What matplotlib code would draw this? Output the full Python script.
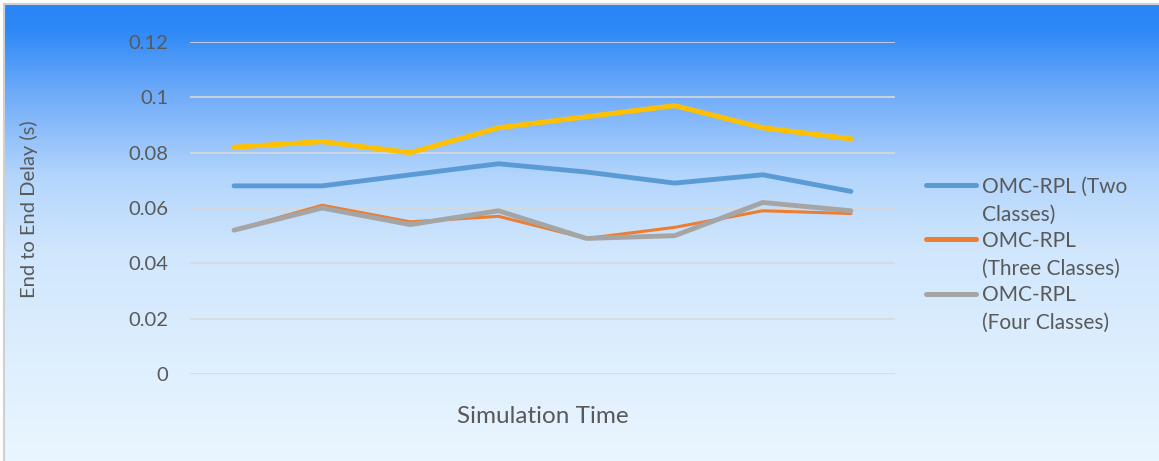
"""
End to end delay vs simulation time, OMC-RPL class variants
"""

import numpy as np
import matplotlib.pyplot as plt
from matplotlib.colors import LinearSegmentedColormap

plt.rcParams['font.family'] = ['Lato', 'DejaVu Sans']

# data (8 time steps, no tick labels shown)
time_steps = list(range(8))
delay_extra = [0.082, 0.084, 0.080, 0.089, 0.093, 0.097, 0.089, 0.085]
delay_two = [0.068, 0.068, 0.072, 0.076, 0.073, 0.069, 0.072, 0.066]
delay_three = [0.052, 0.061, 0.055, 0.057, 0.049, 0.053, 0.059, 0.058]
delay_four = [0.052, 0.060, 0.054, 0.059, 0.049, 0.050, 0.062, 0.059]
y_ticks = [0, 0.02, 0.04, 0.06, 0.08, 0.1, 0.12]
y_tick_labels = ['0', '0.02', '0.04', '0.06', '0.08', '0.1', '0.12']
legend_labels = ['OMC-RPL (Two\nClasses)', 'OMC-RPL\n(Three Classes)', 'OMC-RPL\n(Four Classes)']

TEXT = '#595959'
W, H = 1159, 461
fig = plt.figure(figsize=(W / 100, H / 100), dpi=100)
fig.patch.set_facecolor('white')


def px(x, y):
    # pixel position (from top-left) -> figure fraction
    return x / W, 1 - y / H


# gradient background
bg = fig.add_axes([5 / W, 0, 1 - 5 / W, 1 - 5 / H], zorder=0)
grad_cmap = LinearSegmentedColormap.from_list('bg', [
    (0.00, '#2a86f6'),
    (0.05, '#2c88f6'),
    (0.20, '#72adf9'),
    (0.38, '#b4d6fc'),
    (0.55, '#d1e7fd'),
    (1.00, '#eaf6ff'),
])
grad = np.linspace(0, 1, 300).reshape(-1, 1)
bg.imshow(grad, aspect='auto', cmap=grad_cmap, extent=[0, 1, 1, 0])
bg.set_xlim(0, 1)
bg.set_ylim(1, 0)
bg.axis('off')
# thin grey frame on top/left edges
fig.add_artist(plt.Line2D([4 / W, 1], [1 - 4 / H, 1 - 4 / H], color='#d0d0d0', lw=1.5))
fig.add_artist(plt.Line2D([4 / W, 4 / W], [0, 1 - 4 / H], color='#d0d0d0', lw=1.5))

ax = fig.add_axes([190 / W, (H - 374) / H, 705 / W, 332 / H], zorder=1)
ax.patch.set_alpha(0)

ax.plot(time_steps, delay_extra, color='#ffc000', lw=3.6, solid_capstyle='round', zorder=3)
l_two, = ax.plot(time_steps, delay_two, color='#5b9bd5', lw=3.5,
                 solid_capstyle='round', zorder=3)
l_three, = ax.plot(time_steps, delay_three, color='#ed7d31', lw=2.2,
                   solid_capstyle='round', zorder=3)
l_four, = ax.plot(time_steps, delay_four, color='#a5a5a5', lw=3.5,
                  solid_capstyle='round', zorder=4)

ax.set_xlim(-0.5, 7.5)
ax.set_ylim(0, 0.12)
ax.set_yticks(y_ticks)
ax.set_yticklabels(y_tick_labels)
ax.set_xticks([])
ax.tick_params(axis='y', length=0, pad=15.5, labelsize=14.5, labelcolor=TEXT)
ax.grid(axis='y', color='#d9d9d9', lw=1.2, zorder=1)
for s in ax.spines.values():
    s.set_visible(False)

# axis titles
fig.text(*px(29, 209), 'End to End Delay (s)', rotation=90, ha='center', va='center',
         fontsize=14.5, color=TEXT)
fig.text(*px(543, 423), 'Simulation Time', ha='center', va='baseline',
         fontsize=17.5, color=TEXT)

# legend, handle aligned with first text line like Excel does
for i, (line, label) in enumerate(zip([l_two, l_three, l_four], legend_labels)):
    y0 = 185 + i * 54.3
    hx0, hy = px(925.5, y0)
    hx1, _ = px(975.5, y0)
    fig.add_artist(plt.Line2D([hx0, hx1], [hy, hy], color=line.get_color(), lw=3.6,
                              solid_capstyle='round'))
    for j, part in enumerate(label.split('\n')):
        fig.text(*px(982, y0 + 7.5 + j * 28), part, ha='left', va='baseline',
                 fontsize=15, color=TEXT)

plt.savefig('out.png', dpi=100)
